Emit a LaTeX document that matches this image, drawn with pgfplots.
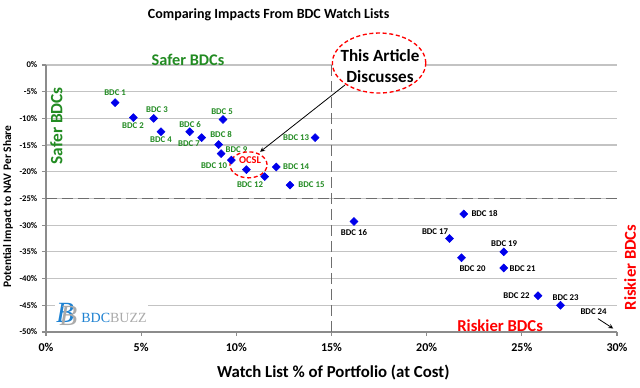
\documentclass[border=0pt]{standalone}
\usepackage{pgfplots}
\pgfplotsset{compat=1.18}
\usepackage{fontspec}
\setmainfont{Carlito}
\newfontfamily\logofont{Liberation Serif}
\definecolor{bgreen}{RGB}{34,139,34}
\definecolor{bblue}{RGB}{0,0,235}
\definecolor{axgray}{RGB}{140,140,140}
\definecolor{gridgray}{RGB}{195,195,195}
\definecolor{dashgray}{RGB}{110,110,110}
\definecolor{logoblue}{RGB}{30,130,210}
\definecolor{logogray}{RGB}{170,170,170}
\tikzset{
  lbl/.style={font=\bfseries\fontsize{6.6}{7.5}\selectfont, text=bgreen, inner sep=0pt},
  lblk/.style={font=\bfseries\fontsize{6.6}{7.5}\selectfont, text=black, inner sep=0pt},
}
\begin{document}
\begin{tikzpicture}
\useasboundingbox (-34.5pt,-42pt) rectangle (445.5pt,249pt);
\begin{axis}[
  at={(0,0)}, anchor=south west,
  scale only axis, width=428.25pt, height=200.25pt,
  xmin=0, xmax=30, ymin=-50, ymax=0,
  axis lines*=left,
  axis line style={axgray, line width=0.8pt},
  tick style={axgray, line width=0.8pt},
  tick align=outside, major tick length=3pt,
  xtick={0,5,...,30}, ytick={-50,-45,...,0},
  /pgf/number format/assume math mode=true,
  xticklabel={\pgfmathprintnumber{\tick}\%},
  yticklabel={\pgfmathprintnumber{\tick}\%},
  xticklabel style={font=\bfseries\fontsize{9}{10}\selectfont, yshift=-2pt},
  yticklabel style={font=\bfseries\fontsize{6.5}{7}\selectfont},
  ymajorgrids, grid style={gridgray, line width=0.9pt},
  title={Comparing Impacts From BDC Watch Lists},
  every axis title/.style={at={(axis description cs:0.39,1.187)}, anchor=center, font=\bfseries\fontsize{10.5}{12}\selectfont},
  xlabel={Watch List \% of Portfolio (at Cost)},
  xlabel style={at={(axis description cs:0.503,-0.15)}, anchor=center, font=\bfseries\fontsize{12.6}{14}\selectfont},
  ylabel={Potential Impact to NAV Per Share},
  ylabel style={at={(axis description cs:-0.0665,0.47)}, anchor=center, font=\bfseries\fontsize{8.6}{10}\selectfont},
  clip=false,
]
% threshold lines
\addplot[dashgray, line width=1.3pt, dash pattern=on 8pt off 4pt] coordinates {(15,0) (15,-50)};
\addplot[dashgray, line width=1.3pt, dash pattern=on 8pt off 4pt] coordinates {(0,-25) (30,-25)};
% data
\addplot[only marks, mark=square*, mark size=2.1pt, color=bblue,
  mark options={rotate=45, fill=bblue, draw=bblue}] coordinates {
(3.63,-7.05) (4.59,-9.85) (5.66,-10.0) (6.04,-12.5) (9.30,-10.2)
(7.55,-12.5) (8.18,-13.6) (9.07,-14.9) (9.20,-16.6) (9.74,-17.8)
(10.53,-19.6) (11.49,-20.9) (14.14,-13.6) (12.1,-19.1) (12.82,-22.5)
(16.18,-29.3) (21.2,-32.5) (21.95,-27.9) (24.05,-35.0) (21.83,-36.1)
(24.05,-38.0) (25.85,-43.2) (27.03,-45.0)};
% labels
\node[lbl] at (axis cs:3.63,-5.23) {BDC 1};
\node[lbl] at (axis cs:4.57,-11.4) {BDC 2};
\node[lbl] at (axis cs:5.83,-8.41) {BDC 3};
\node[lbl] at (axis cs:6.04,-14.0) {BDC 4};
\node[lbl] at (axis cs:9.25,-8.79) {BDC 5};
\node[lbl] at (axis cs:7.57,-11.2) {BDC 6};
\node[lbl] at (axis cs:7.51,-14.8) {BDC 7};
\node[lbl] at (axis cs:9.20,-13.1) {BDC 8};
\node[lbl] at (axis cs:10.01,-15.9) {BDC 9};
\node[lbl] at (axis cs:8.83,-18.9) {BDC 10};
\node[lbl] at (axis cs:10.72,-22.4) {BDC 12};
\node[lbl] at (axis cs:13.14,-13.6) {BDC 13};
\node[lbl] at (axis cs:13.14,-19.1) {BDC 14};
\node[lbl] at (axis cs:13.95,-22.4) {BDC 15};
\node[lblk] at (axis cs:16.18,-31.4) {BDC 16};
\node[lblk] at (axis cs:20.44,-31.2) {BDC 17};
\node[lblk] at (axis cs:23.04,-27.85) {BDC 18};
\node[lblk] at (axis cs:24.07,-33.5) {BDC 19};
\node[lblk] at (axis cs:22.41,-38.1) {BDC 20};
\node[lblk] at (axis cs:25.04,-38.1) {BDC 21};
\node[lblk] at (axis cs:24.72,-43.2) {BDC 22};
\node[lblk] at (axis cs:27.3,-43.6) {BDC 23};
\node[lblk] at (axis cs:28.77,-46.2) {BDC 24};
\draw[-stealth, black, line width=0.6pt] (axis cs:29.0,-47.5) -- (axis cs:29.8,-49.35);
% OCSL
\draw[red, line width=1pt, dash pattern=on 3pt off 2pt] (axis cs:10.64,-18.7) ellipse [x radius=13.9pt, y radius=9.75pt];
\node[font=\bfseries\fontsize{7.8}{9}\selectfont, text=red, inner sep=0pt] at (axis cs:10.72,-17.9) {OCSL};
% article callout
\draw[-stealth, black, line width=0.6pt] (axis cs:15.71,-3.74) -- (axis cs:11.25,-16.26);
\draw[red, line width=1pt, dash pattern=on 3pt off 2pt, fill=white] (axis cs:17.5,0.37) ellipse [x radius=35pt, y radius=22.5pt];
\node[align=center, font=\bfseries\fontsize{12.8}{15.5}\selectfont, inner sep=0pt] at (axis cs:17.55,-0.2) {This Article\\Discusses};
% region labels
\node[font=\bfseries\fontsize{12.2}{14}\selectfont, text=bgreen, inner sep=0pt] at (axis cs:7.46,0.93) {Safer BDCs};
\node[font=\bfseries\fontsize{13}{14}\selectfont, text=bgreen, inner sep=0pt, rotate=90] at (axis cs:0.55,-11.4) {Safer BDCs};
\node[font=\bfseries\fontsize{12.5}{14}\selectfont, text=red, inner sep=0pt] at (axis cs:23.86,-48.8) {Riskier BDCs};
\node[font=\bfseries\fontsize{12.5}{14}\selectfont, text=red, inner sep=0pt, rotate=90] at (axis cs:30.69,-37.9) {Riskier BDCs};
% logo
\node[fill=white, inner sep=1pt, anchor=west] at (axis cs:0.45,-46.7) {%
  {\logofont\itshape\fontsize{22}{22}\selectfont\color{logoblue}B\kern-11pt\raisebox{-2.5pt}{\color{logogray}B}}%
  \hspace{3pt}{\logofont\fontsize{10.5}{11}\selectfont\color{logoblue}BDC\color{logogray}BUZZ}};
\end{axis}
\end{tikzpicture}
\end{document}
